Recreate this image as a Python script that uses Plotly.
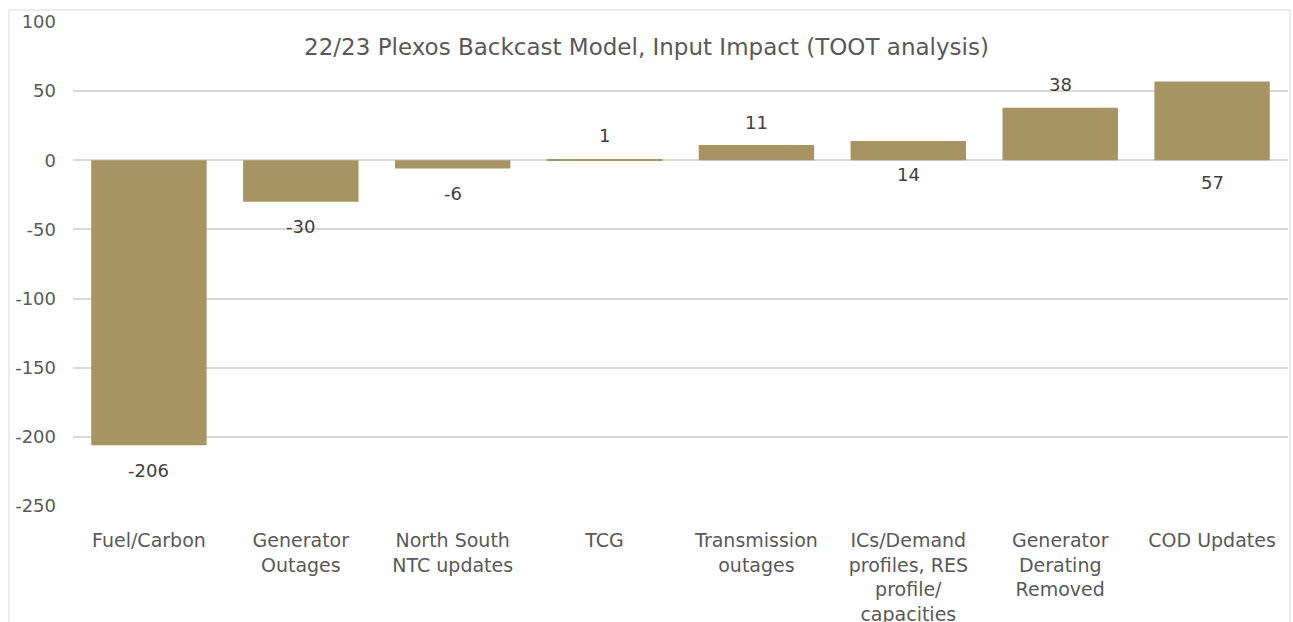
import plotly.graph_objects as go

categories = ["Fuel/Carbon", "Generator<br>Outages", "North South<br>NTC updates", "TCG",
              "Transmission<br>outages", "ICs/Demand<br>profiles, RES<br>profile/<br>capacities",
              "Generator<br>Derating<br>Removed", "COD Updates"]
values = [-206, -30, -6, 1, 11, 14, 38, 57]
y_ticks = [100, 50, 0, -50, -100, -150, -200, -250]
y_tick_text = ["100", "50", "0", "-50", "-100", "-150", "-200", "-250"]

BAR = "#A69563"
GRID = "#D9D9D9"
TXT = "#595959"
LBL = "#404040"
FONT = "DejaVu Sans"

fig = go.Figure(go.Bar(x=categories, y=values, marker=dict(color=BAR, line=dict(width=0)),
                       width=0.76))

# value labels: most sit just past the bar end; 14 and 57 are placed under the baseline
for cat, v in zip(categories, values):
    if v == 57:
        ypos, shift = 0, -22
    elif v == 14:
        ypos, shift = 0, -14
    elif v < 0:
        ypos, shift = v, -25
    else:
        ypos, shift = v, 23
    fig.add_annotation(x=cat, y=ypos, text=str(v), showarrow=False, yshift=shift,
                       font=dict(size=18, color=LBL, family=FONT))

# outer chart frame
fig.add_shape(type="rect", xref="paper", yref="paper", x0=-0.0527, x1=1.0016,
              y0=-0.5, y1=1.0248, line=dict(color=GRID, width=1), fillcolor="rgba(0,0,0,0)",
              layer="below")

fig.update_layout(
    width=1293, height=622,
    margin=dict(l=73, r=5, t=22, b=116, autoexpand=False),
    paper_bgcolor="white", plot_bgcolor="white",
    showlegend=False,
    title=dict(text="22/23 Plexos Backcast Model, Input Impact (TOOT analysis)",
               x=0.5, xref="container", xanchor="center",
               y=(622 - 47) / 622, yref="container", yanchor="middle",
               font=dict(size=23, color=TXT, family=FONT)),
    bargap=0.24,
    font=dict(family=FONT, color=TXT),
)
fig.update_xaxes(showgrid=False, showline=False, zeroline=False, ticks="", automargin=False,
                 tickfont=dict(size=19, color=TXT, family=FONT), ticklabelstandoff=21)
fig.update_yaxes(range=[-250, 100], tickvals=y_ticks, ticktext=y_tick_text, automargin=False,
                 showgrid=True, gridcolor=GRID,
                 gridwidth=1.5, zeroline=True, zerolinecolor=GRID, zerolinewidth=1.5,
                 showline=False, tickfont=dict(size=18, color=TXT, family=FONT),
                 ticklabelstandoff=16)

fig.write_html("out.html")
